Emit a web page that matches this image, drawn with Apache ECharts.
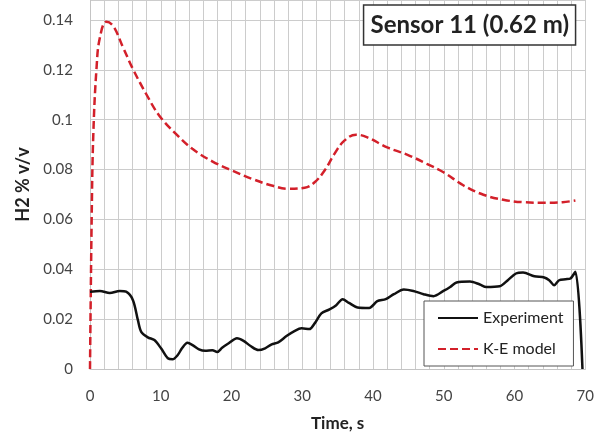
<!DOCTYPE html>
<html><head><meta charset="utf-8">
<script src="https://cdn.jsdelivr.net/npm/echarts@6/dist/echarts.min.js"></script>
<style>html,body{margin:0;padding:0;background:#fff}#c{width:597px;height:437px}</style>
</head><body><div id="c"></div>
<script>
const expTime = [0,1.4,2.8,4.2,5.1,6.07,6.77,7.24,8.17,9.1,10.04,11.0,11.67,12.4,13.0,13.77,14.5,15.4,16.3,17.3,17.97,18.67,19.6,20.77,21.7,22.7,23.8,24.75,25.67,26.6,27.77,28.95,29.9,31.0,31.75,32.7,33.85,34.8,35.7,36.6,37.8,39.45,40.6,41.8,42.95,44.35,45.7,47.15,48.55,49.95,50.9,51.8,53.7,55.1,56.0,57.9,59.05,60.2,61.2,62.8,64.2,64.9,65.6,66.3,67.2,67.9,68.6,69.6];
const expVal = [0.031,0.0313,0.0305,0.0313,0.031,0.0276,0.0196,0.0149,0.0127,0.0116,0.0083,0.0043,0.0039,0.0056,0.0083,0.0105,0.0096,0.0079,0.0073,0.0075,0.0068,0.0085,0.0103,0.0123,0.0113,0.0092,0.0076,0.0083,0.0099,0.0107,0.0132,0.0153,0.0163,0.016,0.0183,0.0223,0.0239,0.0256,0.028,0.0265,0.0247,0.0245,0.0272,0.028,0.030,0.0319,0.0313,0.030,0.0292,0.0313,0.0329,0.0347,0.0351,0.0339,0.0329,0.0332,0.0356,0.0383,0.0387,0.0372,0.0367,0.0356,0.0336,0.0356,0.036,0.0363,0.039,0.0];
const keTime = [0,0.24,0.47,0.93,1.4,2.33,3.27,4.67,6.07,7.94,9.8,12.14,14.47,17.27,20.07,22.87,25.67,28,30.35,31.75,33.15,34.55,35.95,37.6,39.2,42.0,44.8,47.6,49.96,52.8,55.6,58.4,61.2,64.4,66.8,68.6];
const keVal = [0,0.061,0.0943,0.121,0.133,0.1393,0.1376,0.129,0.1203,0.1103,0.1016,0.0943,0.0883,0.0833,0.0796,0.0763,0.0736,0.0723,0.0727,0.0749,0.0796,0.0863,0.0916,0.094,0.0929,0.0889,0.086,0.0823,0.0789,0.0736,0.0699,0.0679,0.0669,0.0667,0.0669,0.0676];
const seriesNames = ['Experiment','K-E model'];
const titleText = 'Sensor 11 (0.62 m)';
const xName = 'Time, s';
const yName = 'H2 % v/v';

const zip = (a,b) => a.map((v,i)=>[v,b[i]]);
const FONT = 'Lato';
const chart = echarts.init(document.getElementById('c'));
chart.setOption({
  animation:false,
  textStyle:{fontFamily:FONT},
  title:{text:titleText,right:21,top:5,borderColor:'#333',borderWidth:1.5,backgroundColor:'#fff',padding:[6,7,5,7],
    textStyle:{fontFamily:FONT,fontSize:24,lineHeight:29,fontWeight:'bold',color:'#222'}},
  legend:{orient:'vertical',left:424,top:301,backgroundColor:'#fff',borderColor:'#555',borderWidth:1,
    padding:[9,10,9,13],itemGap:15,itemWidth:40,itemHeight:14,
    itemStyle:{opacity:0},
    textStyle:{fontFamily:FONT,fontSize:16,color:'#222'},data:seriesNames},
  grid:{left:90,right:8,top:0,bottom:68,containLabel:false},
  xAxis:{type:'value',min:0,max:70,interval:10,name:xName,nameLocation:'middle',nameGap:46,
    nameTextStyle:{fontFamily:FONT,fontSize:17,fontWeight:'bold',color:'#222'},
    axisLine:{show:true,lineStyle:{color:'#c4c4c4',width:1}},axisTick:{show:false},
    axisLabel:{fontFamily:FONT,fontSize:15,color:'#444',margin:20},
    splitLine:{show:true,lineStyle:{color:'#cccccc',width:1}},
    minorTick:{show:false,splitNumber:5},minorSplitLine:{show:true,lineStyle:{color:'#cccccc',width:1}}},
  yAxis:{type:'value',min:0,max:0.148,interval:0.02,name:yName,nameLocation:'middle',nameGap:56,nameRotate:90,
    nameTextStyle:{fontFamily:FONT,fontSize:18,fontWeight:'bold',color:'#222'},
    axisLine:{show:true,lineStyle:{color:'#c4c4c4',width:1}},axisTick:{show:false},
    axisLabel:{fontFamily:FONT,fontSize:15,color:'#444',margin:17,
      formatter:v=>{const r=Math.round(v*100)/100; if(Math.abs(v-r)>1e-6||v>0.145) return ''; return String(r);}},
    splitLine:{show:true,lineStyle:{color:'#cccccc',width:1}}},
  series:[
    {name:seriesNames[0],type:'line',data:zip(expTime,expVal),symbol:'none',smooth:0.3,
      lineStyle:{color:'#111',width:2.5},itemStyle:{color:'#111'},z:3},
    {name:seriesNames[1],type:'line',data:zip(keTime,keVal),symbol:'none',smooth:0.4,
      lineStyle:{color:'#d3202a',width:2.5,type:[8,4]},itemStyle:{color:'#d3202a'},z:2}
  ]
});
</script></body></html>
